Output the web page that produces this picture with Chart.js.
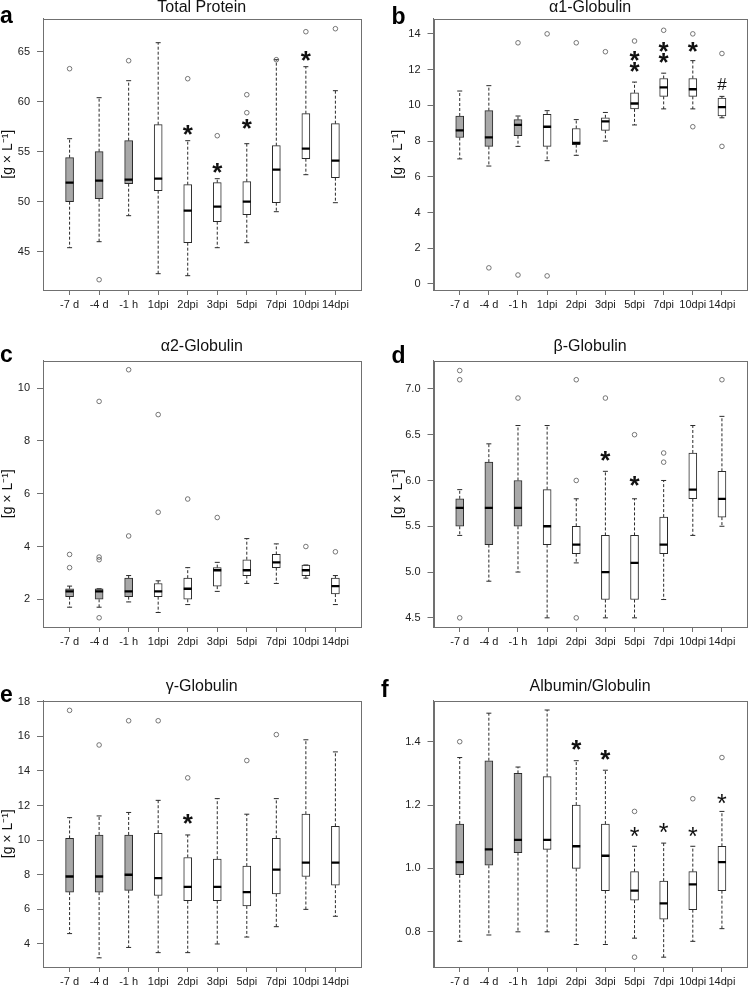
<!DOCTYPE html>
<html><head><meta charset="utf-8">
<script src="https://cdn.jsdelivr.net/npm/chart.js@4/dist/chart.umd.min.js"></script>
<style>
html,body{margin:0;padding:0;background:#fff;}
#wrap{position:relative;width:753px;height:990px;overflow:hidden;background:#fff;}
canvas{position:absolute;display:block;}
</style></head><body>
<div id="wrap">
<canvas id="pa" width="376" height="320" style="left:0;top:0"></canvas>
<canvas id="pb" width="377" height="320" style="left:376px;top:0"></canvas>
<canvas id="pc" width="376" height="330" style="left:0;top:320px"></canvas>
<canvas id="pd" width="377" height="330" style="left:376px;top:320px"></canvas>
<canvas id="pe" width="376" height="340" style="left:0;top:650px"></canvas>
<canvas id="pf" width="377" height="340" style="left:376px;top:650px"></canvas>
</div>
<script>
const categories = ['-7 d','-4 d','-1 h','1dpi','2dpi','3dpi','5dpi','7dpi','10dpi','14dpi'];

// (a) Total Protein
const tpLow  = [45.4, 46.0, 48.6, 42.8, 42.6, 45.4, 45.9, 49.0, 52.7, 49.9];
const tpQ1   = [50.0, 50.3, 51.8, 51.1, 45.9, 48.0, 48.7, 49.9, 54.3, 52.4];
const tpMed  = [51.9, 52.1, 52.2, 52.3, 49.1, 49.5, 50.0, 53.2, 55.3, 54.1];
const tpQ3   = [54.4, 55.0, 56.1, 57.7, 51.7, 51.9, 52.0, 55.6, 58.8, 57.8];
const tpHigh = [56.3, 60.4, 62.1, 65.9, 56.1, 52.3, 55.8, 64.2, 63.5, 61.1];
const tpOut  = [[63.3],[42.2],[64.1],[],[62.3],[56.6],[60.7,58.9],[64.2],[67.0],[67.3]];
const tpSig  = ['','','','','*','*','*','','*',''];
const tpSigY = [null,null,null,null,57.2,53.4,57.8,null,64.6,null];
const tpTicks = [45,50,55,60,65];

// (b) alpha1-Globulin
const a1Low  = [7.0, 6.6, 7.7, 6.9, 7.2, 8.0, 8.9, 9.8, 9.8, 9.3];
const a1Q1   = [8.2, 7.7, 8.3, 7.7, 7.8, 8.6, 9.8, 10.5, 10.5, 9.4];
const a1Med  = [8.6, 8.2, 8.9, 8.8, 7.9, 9.1, 10.1, 11.0, 10.9, 9.9];
const a1Q3   = [9.4, 9.7, 9.2, 9.5, 8.7, 9.3, 10.7, 11.5, 11.5, 10.4];
const a1High = [10.8, 11.1, 9.4, 9.7, 9.2, 9.6, 11.3, 11.8, 12.5, 10.5];
const a1Out  = [[],[0.9],[13.5,0.5],[14.0,0.45],[13.5],[13.0],[13.6],[14.2],[14.0,8.8],[12.9,7.7]];
const a1Sig  = ['','','','','','','**','**','*',''];
const a1SigY = [null,null,null,null,null,null,12.44,12.95,13.25,null];
const a1Hash = ['','','','','','','','','','#'];
const a1HashY= [null,null,null,null,null,null,null,null,null,11.21];
const a1Ticks = [0,2,4,6,8,10,12,14];

// (c) alpha2-Globulin
const a2Low  = [1.7, 1.7, 1.9, 1.5, 1.8, 2.3, 2.6, 2.6, 2.8, 1.8];
const a2Q1   = [2.1, 2.0, 2.1, 2.1, 2.0, 2.5, 2.9, 3.2, 2.9, 2.2];
const a2Med  = [2.3, 2.3, 2.3, 2.3, 2.4, 3.1, 3.1, 3.4, 3.1, 2.5];
const a2Q3   = [2.4, 2.4, 2.8, 2.6, 2.8, 3.2, 3.5, 3.7, 3.3, 2.8];
const a2High = [2.5, 2.4, 2.9, 2.7, 3.2, 3.4, 4.3, 4.1, 3.3, 2.9];
const a2Out  = [[3.7,3.2],[9.5,3.6,3.5,1.3],[10.7,4.4],[9.0,5.3],[5.8],[5.1],[],[],[4.0],[3.8]];
const a2Ticks = [2,4,6,8,10];

// (d) beta-Globulin
const bLow   = [5.4, 4.9, 5.0, 4.5, 5.1, 4.5, 4.5, 4.7, 5.4, 5.5];
const bQ1    = [5.5, 5.3, 5.5, 5.3, 5.2, 4.7, 4.7, 5.2, 5.8, 5.6];
const bMed   = [5.7, 5.7, 5.7, 5.5, 5.3, 5.0, 5.1, 5.3, 5.9, 5.8];
const bQ3    = [5.8, 6.2, 6.0, 5.9, 5.5, 5.4, 5.4, 5.6, 6.3, 6.1];
const bHigh  = [5.9, 6.4, 6.6, 6.6, 5.8, 6.1, 5.8, 6.0, 6.6, 6.7];
const bOut   = [[7.2,7.1,4.5],[],[6.9],[],[7.1,6.0,4.5],[6.9],[6.5],[6.3,6.2],[],[7.1]];
const bSig   = ['','','','','','*','*','','',''];
const bSigY  = [null,null,null,null,null,6.27,5.99,null,null,null];
const bTicks = [4.5,5.0,5.5,6.0,6.5,7.0];

// (e) gamma-Globulin
const gLow   = [4.6, 3.2, 3.8, 3.5, 3.5, 4.0, 4.4, 5.0, 6.0, 5.6];
const gQ1    = [7.0, 7.0, 7.1, 6.8, 6.5, 6.5, 6.2, 6.9, 7.9, 7.4];
const gMed   = [7.9, 7.9, 8.0, 7.8, 7.3, 7.3, 7.0, 8.3, 8.7, 8.7];
const gQ3    = [10.1, 10.3, 10.3, 10.4, 9.0, 8.9, 8.5, 10.1, 11.5, 10.8];
const gHigh  = [11.3, 11.4, 11.6, 12.3, 10.3, 12.4, 11.5, 12.4, 15.8, 15.1];
const gOut   = [[17.5],[15.5],[16.9],[16.9],[13.6],[],[14.6],[16.1],[],[]];
const gSig   = ['','','','','*','','','','',''];
const gSigY  = [null,null,null,null,11.2,null,null,null,null,null];
const gTicks = [4,6,8,10,12,14,16,18];

// (f) Albumin/Globulin
const agLow  = [0.77, 0.79, 0.80, 0.80, 0.76, 0.76, 0.78, 0.72, 0.77, 0.81];
const agQ1   = [0.98, 1.01, 1.05, 1.06, 1.00, 0.93, 0.90, 0.84, 0.87, 0.93];
const agMed  = [1.02, 1.06, 1.09, 1.09, 1.07, 1.04, 0.93, 0.89, 0.95, 1.02];
const agQ3   = [1.14, 1.34, 1.30, 1.29, 1.20, 1.14, 0.99, 0.96, 0.99, 1.07];
const agHigh = [1.35, 1.49, 1.32, 1.50, 1.34, 1.31, 1.07, 1.08, 1.07, 1.18];
const agOut  = [[1.40],[],[],[],[],[],[1.18,0.72],[],[1.22],[1.35]];
const agSig  = ['','','','','*','*','','','',''];
const agSigY = [null,null,null,null,1.39,1.358,null,null,null,null];
const agSig2 = ['','','','','','','*','*','*','*'];
const agSig2Y= [null,null,null,null,null,null,1.116,1.127,1.116,1.218];
const agTicks = [0.8,1.0,1.2,1.4];

const FONT = "'Liberation Sans', Arial, Helvetica, sans-serif";
Chart.defaults.font.family = FONT;
const FRAME = '#707070';
const INK = '#2a2a2a';

function boxDatasets(lo, q1, med, q3, hi, out) {
  const xs = categories.map((_, i) => i + 1);
  const wh = [];
  xs.forEach((x, i) => {
    wh.push({x, y: q3[i]}, {x, y: hi[i]}, {x, y: null}, {x, y: q1[i]}, {x, y: lo[i]}, {x, y: null});
  });
  return [
    { type: 'bar', data: xs.map((x, i) => ({x, y: [q1[i], q3[i]]})),
      backgroundColor: xs.map((x, i) => i < 3 ? '#a8a8a8' : '#ffffff'),
      borderColor: INK, borderWidth: 1, borderSkipped: false, barThickness: 8, order: 3 },
    { type: 'line', data: wh, borderColor: INK, borderWidth: 1, borderDash: [3, 2],
      pointRadius: 0, spanGaps: false, fill: false, tension: 0, order: 4 },
    { type: 'scatter', data: xs.flatMap((x, i) => [{x, y: lo[i]}, {x, y: hi[i]}]),
      pointStyle: 'line', pointRadius: 2.5, pointHoverRadius: 2.5, pointBorderColor: INK, pointBorderWidth: 1, order: 2 },
    { type: 'scatter', data: xs.map((x, i) => ({x, y: med[i]})),
      pointStyle: 'line', pointRadius: 4, pointHoverRadius: 4, pointBorderColor: '#000', pointBorderWidth: 2.3, order: 0 },
    { type: 'scatter', data: xs.flatMap((x, i) => out[i].map(v => ({x, y: v}))),
      pointStyle: 'circle', pointRadius: 2.3, pointHoverRadius: 2.3, pointBorderColor: '#555', pointBorderWidth: 0.8,
      pointBackgroundColor: 'rgba(0,0,0,0)', order: 1 }
  ];
}

const COLS = [
  {yWidth: 43, padRight: 15.5, yTitlePad: 0, letterX: 0},
  {yWidth: 57.5, padRight: 2, yTitlePad: 14.5, letterX: 15.5}
];
const ROWS = [
  {tTop: 0, tBottom: 2.5, xHeight: 30, letterBase: 23},
  {tTop: 18.7, tBottom: 5.8, xHeight: 23, letterBase: 42},
  {tTop: 28.7, tBottom: 5.8, xHeight: 23, letterBase: 51}
];

function makePanel(p) {
  const col = COLS[p.col], row = ROWS[p.row];
  const letterX = p.letterX !== undefined ? p.letterX : col.letterX;
  const letterBase = p.letterBase !== undefined ? p.letterBase : row.letterBase;
  const deco = {
    id: 'deco' + p.id,
    afterDatasetsDraw(chart) {
      const {ctx, scales: {x, y}} = chart;
      (p.sig || []).forEach(set => {
        ctx.save();
        ctx.font = set.font; ctx.fillStyle = '#111';
        ctx.textAlign = 'center'; ctx.textBaseline = 'alphabetic';
        set.texts.forEach((t, i) => {
          if (!t) return;
          const chars = Array.from(t);
          const px = x.getPixelForValue(i + 1);
          const py = y.getPixelForValue(set.ys[i]);
          chars.forEach((c, k) => {
            const m = ctx.measureText(c);
            const off = (m.actualBoundingBoxAscent - m.actualBoundingBoxDescent) / 2;
            const cy = py + (k - (chars.length - 1) / 2) * (set.step || 10.7);
            ctx.fillText(c, px, cy + off);
          });
        });
        ctx.restore();
      });
    },
    afterDraw(chart) {
      const {ctx, chartArea: a} = chart;
      ctx.save();
      ctx.strokeStyle = FRAME; ctx.lineWidth = 1;
      ctx.strokeRect(Math.round(a.left) + 0.5, Math.round(a.top) + 0.5,
                     Math.round(a.right) - Math.round(a.left), Math.round(a.bottom) - Math.round(a.top));
      ctx.fillStyle = '#000';
      ctx.font = 'bold 23px ' + FONT;
      ctx.textAlign = 'left'; ctx.textBaseline = 'alphabetic';
      ctx.fillText(p.letter, letterX, letterBase);
      ctx.restore();
    }
  };
  new Chart(document.getElementById(p.id), {
    type: 'bar',
    data: { datasets: boxDatasets(p.lo, p.q1, p.med, p.q3, p.hi, p.out) },
    plugins: [deco],
    options: {
      responsive: false, animation: false, events: [],
      layout: { padding: {left: 0, right: col.padRight, top: 0, bottom: 0} },
      plugins: {
        legend: {display: false}, tooltip: {enabled: false},
        title: { display: true, text: p.title, fullSize: false, color: '#111',
                 font: {size: 16, weight: 'normal', lineHeight: 1, family: FONT},
                 padding: {top: row.tTop, bottom: row.tBottom} }
      },
      scales: {
        x: {
          type: 'linear', min: 0.1, max: 10.85, offset: false,
          grid: {display: true, offset: false, drawOnChartArea: false, drawTicks: true, tickLength: 5, color: FRAME},
          border: {display: true, color: FRAME},
          afterBuildTicks: s => { s.ticks = categories.map((_, i) => ({value: i + 1})); },
          afterFit: s => { s.height = row.xHeight; },
          ticks: { autoSkip: false, maxRotation: 0, padding: 3, color: '#222', font: {size: 11},
                   callback: v => categories[v - 1] || '' }
        },
        y: {
          type: 'linear', min: p.yMin, max: p.yMax,
          grid: {display: true, drawOnChartArea: false, drawTicks: true, tickLength: 6, color: FRAME},
          border: {display: true, color: FRAME},
          afterBuildTicks: s => { s.ticks = p.ticks.map(v => ({value: v})); },
          afterFit: s => { s.width = col.yWidth; },
          ticks: { padding: 7, color: '#222', font: {size: 11},
                   callback: v => v.toFixed(p.dec) },
          title: { display: p.yTitle, text: '[g \u00d7 L\u207b\u00b9]', color: '#111',
                   font: {size: 14, family: FONT, lineHeight: 1.1}, padding: {top: col.yTitlePad, bottom: 0} }
        }
      }
    }
  });
}

const BOLD = 'bold 26px ' + FONT;
const LIGHT = 'normal 25px ' + FONT;

makePanel({id: 'pa', col: 0, row: 0, letter: 'a', title: 'Total Protein', yTitle: true,
  lo: tpLow, q1: tpQ1, med: tpMed, q3: tpQ3, hi: tpHigh, out: tpOut,
  yMin: 41.17, yMax: 68.32, ticks: tpTicks, dec: 0,
  sig: [{texts: tpSig, ys: tpSigY, font: BOLD}]});
makePanel({id: 'pb', col: 1, row: 0, letter: 'b', title: '\u03b11-Globulin', yTitle: true, letterBase: 24,
  lo: a1Low, q1: a1Q1, med: a1Med, q3: a1Q3, hi: a1High, out: a1Out,
  yMin: -0.34, yMax: 14.86, ticks: a1Ticks, dec: 0,
  sig: [{texts: a1Sig, ys: a1SigY, font: BOLD}, {texts: a1Hash, ys: a1HashY, font: 'normal 17px ' + FONT}]});
makePanel({id: 'pc', col: 0, row: 1, letter: 'c', title: '\u03b12-Globulin', yTitle: true,
  lo: a2Low, q1: a2Q1, med: a2Med, q3: a2Q3, hi: a2High, out: a2Out,
  yMin: 0.95, yMax: 11.05, ticks: a2Ticks, dec: 0, sig: []});
makePanel({id: 'pd', col: 1, row: 1, letter: 'd', title: '\u03b2-Globulin', yTitle: true, letterBase: 43,
  lo: bLow, q1: bQ1, med: bMed, q3: bQ3, hi: bHigh, out: bOut,
  yMin: 4.40, yMax: 7.31, ticks: bTicks, dec: 1,
  sig: [{texts: bSig, ys: bSigY, font: BOLD}]});
makePanel({id: 'pe', col: 0, row: 2, letter: 'e', title: '\u03b3-Globulin', yTitle: true, letterBase: 51.5,
  lo: gLow, q1: gQ1, med: gMed, q3: gQ3, hi: gHigh, out: gOut,
  yMin: 2.67, yMax: 18.07, ticks: gTicks, dec: 0,
  sig: [{texts: gSig, ys: gSigY, font: BOLD}]});
makePanel({id: 'pf', col: 1, row: 2, letter: 'f', title: 'Albumin/Globulin', yTitle: false, letterX: 5, letterBase: 47,
  lo: agLow, q1: agQ1, med: agMed, q3: agQ3, hi: agHigh, out: agOut,
  yMin: 0.689, yMax: 1.530, ticks: agTicks, dec: 1,
  sig: [{texts: agSig, ys: agSigY, font: BOLD}, {texts: agSig2, ys: agSig2Y, font: LIGHT}]});
</script>
</body></html>
